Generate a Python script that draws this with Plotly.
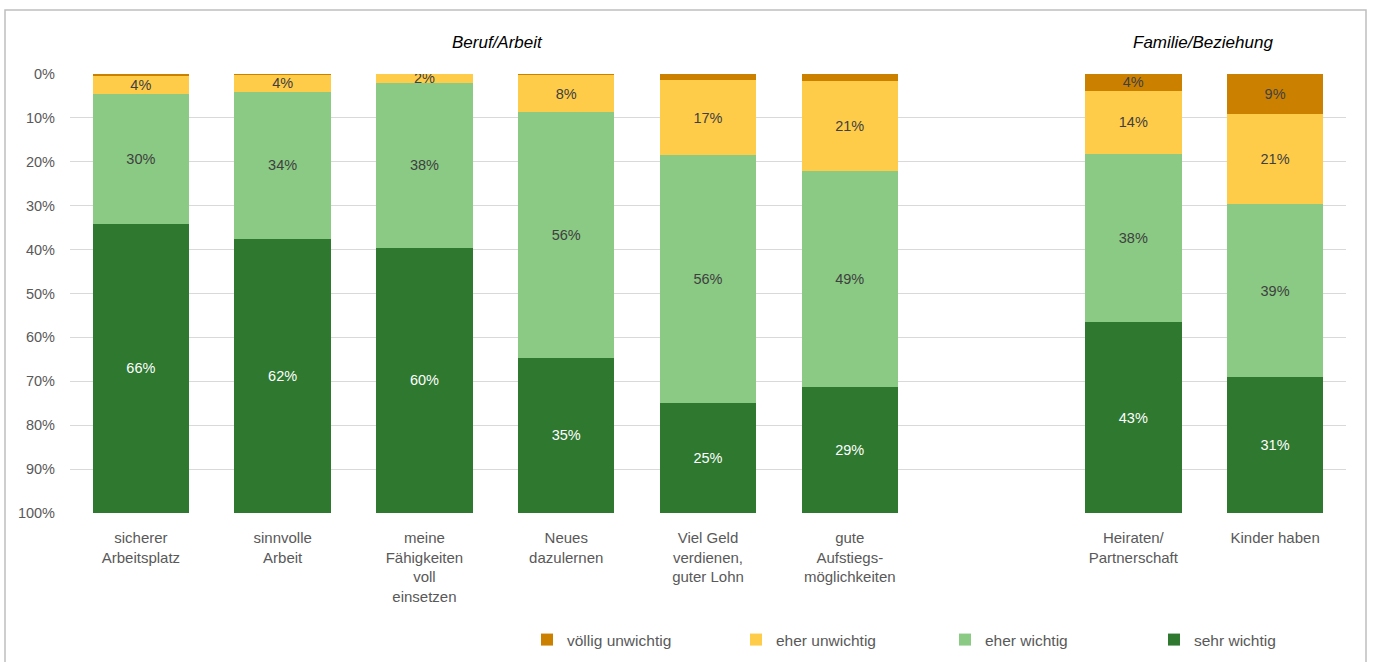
import plotly.graph_objects as go

categories = ["sicherer<br>Arbeitsplatz", "sinnvolle<br>Arbeit", "meine<br>Fähigkeiten<br>voll<br>einsetzen",
              "Neues<br>dazulernen", "Viel Geld<br>verdienen,<br>guter Lohn", "gute<br>Aufstiegs-<br>möglichkeiten",
              " ", "Heiraten/<br>Partnerschaft", "Kinder haben"]

voellig_unwichtig = [0.4, 0.3, 0.0, 0.3, 1.4, 1.6, None, 3.8, 9.1]
eher_unwichtig = [4.2, 3.7, 2.0, 8.4, 17.1, 20.6, None, 14.4, 20.6]
eher_wichtig = [29.5, 33.6, 37.6, 55.9, 56.4, 49.1, None, 38.4, 39.3]
sehr_wichtig = [65.9, 62.4, 60.4, 35.4, 25.1, 28.7, None, 43.4, 31.0]

y_ticks = [0, 10, 20, 30, 40, 50, 60, 70, 80, 90, 100]
y_ticktext = [f"{v}%" for v in y_ticks]

series = [
    ("völlig unwichtig", voellig_unwichtig, "#CC8000", "#404040"),
    ("eher unwichtig", eher_unwichtig, "#FFCC4A", "#404040"),
    ("eher wichtig", eher_wichtig, "#8ACA84", "#404040"),
    ("sehr wichtig", sehr_wichtig, "#2E7830", "#FFFFFF"),
]

FONT = "Liberation Sans, Arial, sans-serif"

def labels(vals):
    out = []
    for v in vals:
        if v is None or v < 1.8:
            out.append("")
        else:
            out.append(f"{int(v + 0.5)}%")
    return out

fig = go.Figure()
for name, vals, color, tcolor in series:
    fig.add_trace(go.Bar(
        x=categories, y=vals, name=name,
        marker=dict(color=color, line=dict(width=0)),
        text=labels(vals), texttemplate="%{text}",
        textposition="inside", insidetextanchor="middle",
        textangle=0, constraintext="none",
        textfont=dict(color=tcolor, size=14.5, family=FONT),
        hoverinfo="skip",
    ))

L, R, T, B = 70, 27, 74, 149
W, H = 1373, 662
pw, ph = W - L - R, H - T - B

def px(x):
    return (x - L) / pw

def py(y):
    return (H - B - y) / ph

fig.update_layout(
    width=W, height=H,
    barmode="stack", bargap=0.32,
    margin=dict(l=L, r=R, t=T, b=B, autoexpand=False),
    plot_bgcolor="white", paper_bgcolor="white",
    font=dict(family=FONT, size=14, color="#595959"),
    showlegend=True,
    legend=dict(orientation="h", x=px(527), xanchor="left", y=py(640), yanchor="middle",
                entrywidth=164, entrywidthmode="pixels",
                font=dict(size=15.5, color="#595959", family=FONT),
                itemwidth=30, traceorder="normal"),
    xaxis=dict(type="category", categoryorder="array", categoryarray=categories,
               showgrid=False, showline=False, ticks="", ticklabelstandoff=14,
               tickfont=dict(size=15, color="#595959"),
               automargin=False, fixedrange=True),
    yaxis=dict(range=[100, 0], tickmode="array", tickvals=y_ticks, ticktext=y_ticktext,
               showgrid=True, gridcolor="#D9D9D9", gridwidth=1.3,
               zeroline=False, showline=False, ticks="", ticklabelstandoff=14,
               tickfont=dict(size=14.5, color="#595959"), automargin=False, fixedrange=True),
    annotations=[
        dict(text="<i>Beruf/Arbeit</i>", xref="paper", yref="paper", x=px(497), y=py(42),
             xanchor="center", yanchor="middle", showarrow=False,
             font=dict(size=17, color="#000000", family=FONT)),
        dict(text="<i>Familie/Beziehung</i>", xref="paper", yref="paper", x=px(1203), y=py(42),
             xanchor="center", yanchor="middle", showarrow=False,
             font=dict(size=17, color="#000000", family=FONT)),
    ],
    shapes=[
        dict(type="rect", xref="paper", yref="paper", x0=px(5), x1=px(1366), y0=py(700), y1=py(10),
             line=dict(color="#BFBFBF", width=1.5), fillcolor="rgba(0,0,0,0)", layer="below"),
    ],
)

fig.write_html("out.html")
